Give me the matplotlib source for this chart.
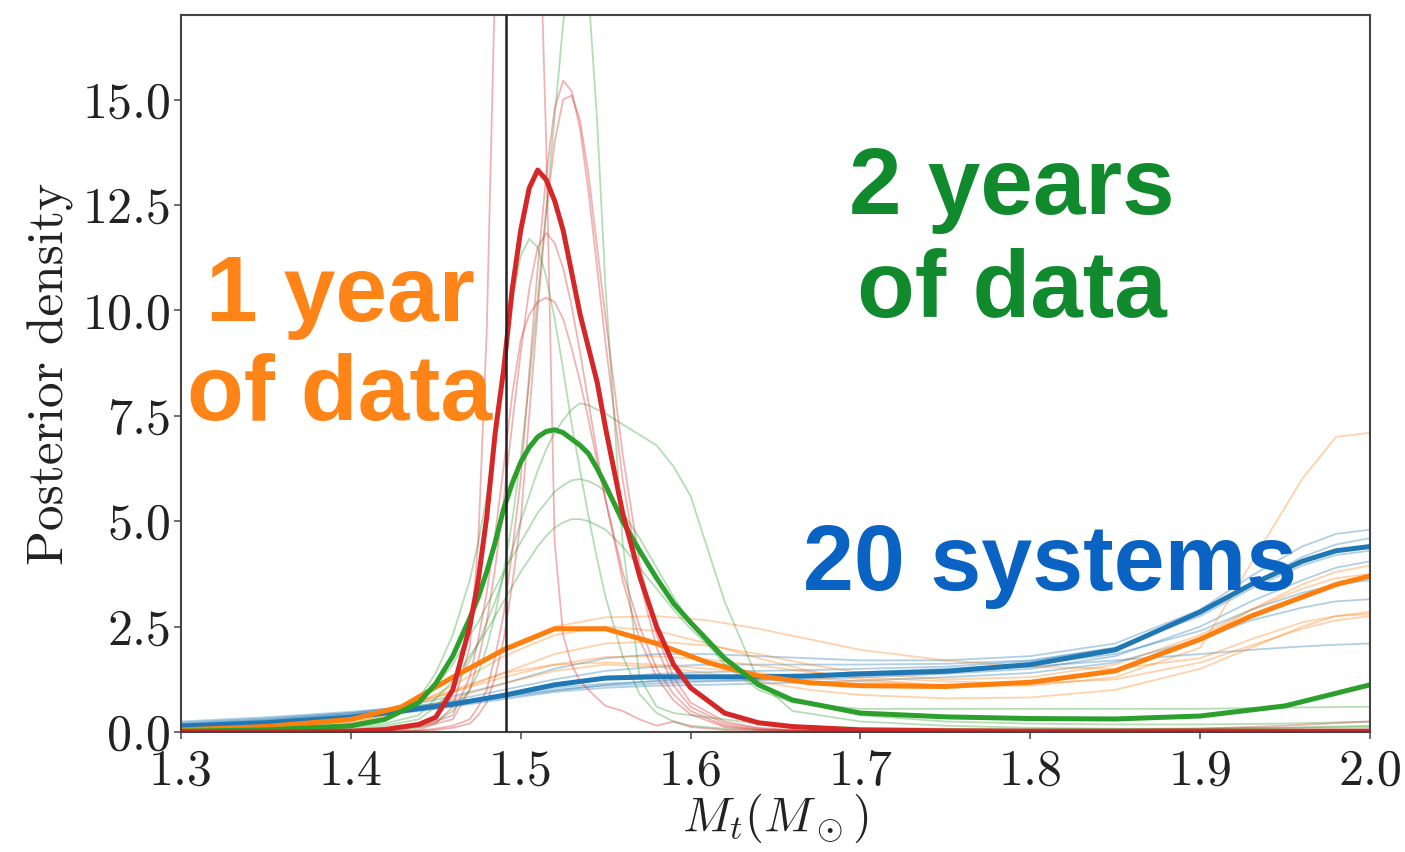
import matplotlib
matplotlib.use("Agg")
import matplotlib.pyplot as plt

plt.rcParams["font.family"] = "serif"
plt.rcParams["font.serif"] = ["cmr10"]
plt.rcParams["mathtext.fontset"] = "cm"
plt.rcParams["axes.formatter.use_mathtext"] = True
plt.rcParams["axes.unicode_minus"] = False

# x grids (total mass, solar masses)
X_NARROW = [1.30, 1.35, 1.40, 1.42, 1.44, 1.45, 1.46, 1.47, 1.475, 1.48,
            1.485, 1.49, 1.495, 1.50, 1.505, 1.51, 1.515, 1.52, 1.525, 1.53,
            1.535, 1.54, 1.545, 1.55, 1.56, 1.57, 1.58, 1.59, 1.60, 1.62,
            1.64, 1.66, 1.70, 1.75, 1.80, 1.85, 1.90, 1.95, 2.00]
X_BROAD = [1.30, 1.35, 1.40, 1.43, 1.46, 1.49, 1.52, 1.55, 1.58, 1.61, 1.64,
           1.67, 1.70, 1.75, 1.80, 1.85, 1.90, 1.93, 1.96, 1.98, 2.00]

TRUE_MASS = 1.4915

# combined posteriors
RED_MEAN = [0.0, 0.0, 0.02, 0.06, 0.18, 0.35, 1.0, 2.5, 3.6, 5.1,
            7.1, 8.6, 10.5, 11.9, 12.9, 13.33, 13.1, 12.6, 11.9, 10.9,
            9.9, 9.1, 8.3, 7.2, 5.2, 3.7, 2.5, 1.6, 1.05, 0.45,
            0.22, 0.13, 0.05, 0.03, 0.02, 0.02, 0.02, 0.02, 0.02]
GREEN_MEAN = [0.02, 0.05, 0.15, 0.3, 0.7, 1.15, 1.8, 2.7, 3.2, 3.8,
              4.5, 5.3, 5.9, 6.4, 6.75, 7.0, 7.13, 7.17, 7.1, 6.95,
              6.8, 6.6, 6.25, 5.85, 5.0, 4.3, 3.65, 3.05, 2.6, 1.75,
              1.12, 0.76, 0.45, 0.36, 0.32, 0.31, 0.38, 0.62, 1.12]
ORANGE_MEAN = [0.05, 0.13, 0.3, 0.6, 1.3, 1.95, 2.45, 2.45, 2.1, 1.65, 1.33,
               1.17, 1.1, 1.08, 1.18, 1.45, 2.2, 2.75, 3.2, 3.5, 3.7]
BLUE_MEAN = [0.14, 0.22, 0.35, 0.5, 0.66, 0.87, 1.12, 1.28, 1.31, 1.31, 1.31,
             1.33, 1.38, 1.44, 1.6, 1.95, 2.85, 3.5, 4.05, 4.3, 4.4]

# individual realisations
RED_RUNS = [
    [0.0, 0.0, 0.01, 0.02, 0.05, 0.2, 0.6, 2.0, 4.5, 9.5,
     18.0, 24.0, 27.5, 28.5, 27.0, 21.0, 14.0, 4.5, 2.3, 1.6,
     1.2, 1.0, 0.8, 0.62, 0.5, 0.3, 0.15, 0.25, 0.12, 0.05,
     0.02, 0.02, 0.02, 0.02, 0.02, 0.02, 0.02, 0.02, 0.02],
    [0.0, 0.0, 0.0, 0.01, 0.03, 0.08, 0.15, 0.3, 0.6, 1.0,
     1.8, 2.8, 4.3, 6.0, 8.5, 11.0, 13.2, 14.8, 15.45, 15.2,
     14.3, 12.8, 11.0, 9.2, 6.0, 3.6, 2.0, 1.1, 0.6, 0.2,
     0.08, 0.04, 0.02, 0.02, 0.02, 0.02, 0.02, 0.02, 0.02],
    [0.0, 0.0, 0.0, 0.01, 0.02, 0.05, 0.1, 0.2, 0.4, 0.7,
     1.3, 2.2, 3.5, 5.0, 7.5, 10.0, 12.3, 14.0, 15.0, 15.1,
     14.5, 13.2, 11.5, 9.8, 6.6, 4.0, 2.3, 1.3, 0.7, 0.25,
     0.1, 0.05, 0.03, 0.03, 0.04, 0.05, 0.08, 0.15, 0.25],
    [0.0, 0.0, 0.02, 0.05, 0.12, 0.2, 0.3, 1.0, 1.7, 2.6,
     3.9, 5.5, 7.3, 9.0, 10.5, 11.5, 11.84, 11.6, 11.0, 10.1,
     9.0, 7.8, 6.6, 5.5, 3.6, 2.2, 1.3, 0.75, 0.42, 0.12,
     0.05, 0.03, 0.02, 0.02, 0.02, 0.02, 0.02, 0.02, 0.02],
    [0.0, 0.0, 0.03, 0.07, 0.15, 0.25, 0.4, 1.3, 2.2, 3.3,
     4.7, 6.3, 8.0, 9.3, 9.9, 10.2, 10.3, 10.2, 9.8, 9.1,
     8.3, 7.4, 6.4, 5.5, 3.8, 2.5, 1.5, 0.9, 0.5, 0.15,
     0.06, 0.03, 0.02, 0.02, 0.02, 0.02, 0.02, 0.02, 0.02],
]
GREEN_RUNS = [
    [0.0, 0.01, 0.03, 0.05, 0.1, 0.25, 0.5, 1.0, 1.4, 2.0,
     2.8, 3.8, 5.0, 6.5, 8.3, 10.3, 12.4, 14.6, 16.8, 18.5,
     19.2, 17.5, 14.5, 10.5, 4.5, 1.3, 0.6, 0.45, 0.4, 0.3,
     0.2, 0.15, 0.1, 0.08, 0.07, 0.07, 0.08, 0.1, 0.12],
    [0.02, 0.04, 0.1, 0.3, 0.8, 1.4, 2.3, 3.6, 4.5, 5.6,
     7.0, 8.6, 10.2, 11.3, 11.7, 11.5, 10.8, 9.8, 8.6, 7.3,
     6.2, 5.1, 4.1, 3.2, 1.8, 0.9, 0.45, 0.25, 0.15, 0.08,
     0.05, 0.04, 0.03, 0.03, 0.03, 0.03, 0.04, 0.05, 0.06],
    [0.01, 0.03, 0.08, 0.15, 0.3, 0.6, 1.0, 1.7, 2.1, 2.6,
     3.1, 3.7, 4.3, 5.0, 5.6, 6.2, 6.7, 7.1, 7.4, 7.65,
     7.8, 7.75, 7.65, 7.55, 7.3, 7.05, 6.8, 6.3, 5.6, 3.1,
     1.2, 0.5, 0.25, 0.15, 0.1, 0.08, 0.08, 0.1, 0.15],
    [0.03, 0.07, 0.15, 0.3, 0.7, 1.1, 1.6, 2.3, 2.6, 3.0,
     3.4, 3.8, 4.15, 4.5, 4.85, 5.2, 5.45, 5.7, 5.85, 5.97,
     6.0, 5.95, 5.85, 5.7, 5.2, 4.6, 3.9, 3.2, 2.6, 1.6,
     1.0, 0.7, 0.55, 0.55, 0.55, 0.55, 0.55, 0.58, 0.6],
    [0.02, 0.05, 0.12, 0.2, 0.4, 0.8, 1.2, 1.8, 2.1, 2.4,
     2.75, 3.1, 3.45, 3.8, 4.1, 4.4, 4.65, 4.85, 4.97, 5.05,
     5.05, 5.0, 4.9, 4.8, 4.4, 3.9, 3.4, 2.9, 2.45, 1.7,
     1.1, 0.75, 0.4, 0.25, 0.2, 0.18, 0.18, 0.2, 0.25],
]
ORANGE_RUNS = [
    [0.03, 0.08, 0.25, 0.6, 1.3, 2.0, 2.5, 2.72, 2.75, 2.65, 2.45,
     2.2, 1.95, 1.7, 1.55, 1.5, 1.75, 2.2, 2.6, 2.75, 2.8],
    [0.05, 0.1, 0.3, 0.6, 1.0, 1.4, 1.6, 1.65, 1.6, 1.5, 1.4,
     1.3, 1.2, 1.1, 1.1, 1.3, 2.0, 4.0, 6.0, 7.0, 7.1],
    [0.05, 0.12, 0.3, 0.55, 0.95, 1.4, 1.85, 2.1, 2.15, 2.05, 1.85,
     1.6, 1.4, 1.25, 1.3, 1.6, 2.3, 2.9, 3.4, 3.65, 3.75],
    [0.08, 0.15, 0.35, 0.6, 0.95, 1.3, 1.6, 1.78, 1.8, 1.72, 1.58,
     1.42, 1.3, 1.2, 1.15, 1.25, 1.65, 2.05, 2.45, 2.65, 2.75],
    [0.04, 0.1, 0.25, 0.45, 0.8, 1.15, 1.45, 1.6, 1.55, 1.4, 1.2,
     1.0, 0.88, 0.8, 0.82, 1.0, 1.5, 2.0, 2.5, 2.75, 2.85],
    [0.02, 0.06, 0.2, 0.5, 1.1, 1.8, 2.3, 2.5, 2.4, 2.1, 1.75,
     1.45, 1.25, 1.1, 1.15, 1.45, 2.2, 2.9, 3.5, 3.8, 3.95],
]
BLUE_RUNS = [
    [0.2, 0.3, 0.45, 0.6, 0.85, 1.15, 1.5, 1.75, 1.85, 1.85, 1.8,
     1.75, 1.7, 1.7, 1.8, 2.1, 2.9, 3.7, 4.4, 4.7, 4.8],
    [0.15, 0.25, 0.4, 0.55, 0.75, 1.0, 1.25, 1.45, 1.55, 1.6, 1.6,
     1.6, 1.6, 1.62, 1.7, 2.0, 2.75, 3.4, 3.95, 4.2, 4.3],
    [0.25, 0.35, 0.48, 0.58, 0.72, 0.85, 1.0, 1.1, 1.15, 1.2, 1.22,
     1.25, 1.3, 1.38, 1.5, 1.8, 2.5, 3.1, 3.6, 3.9, 4.05],
    [0.12, 0.2, 0.35, 0.45, 0.6, 0.78, 0.95, 1.05, 1.1, 1.12, 1.15,
     1.18, 1.22, 1.3, 1.4, 1.65, 2.2, 2.65, 2.95, 3.1, 3.15],
    [0.18, 0.28, 0.42, 0.55, 0.7, 0.88, 1.05, 1.15, 1.2, 1.22, 1.25,
     1.3, 1.35, 1.45, 1.55, 1.7, 1.85, 1.95, 2.03, 2.07, 2.1],
    [0.22, 0.32, 0.45, 0.55, 0.68, 0.82, 0.98, 1.12, 1.22, 1.28, 1.32,
     1.36, 1.42, 1.5, 1.6, 1.85, 2.4, 2.9, 3.3, 3.5, 3.6],
    [0.17, 0.27, 0.4, 0.52, 0.68, 0.9, 1.15, 1.3, 1.38, 1.42, 1.45,
     1.47, 1.5, 1.55, 1.68, 2.0, 2.8, 3.5, 4.15, 4.45, 4.6],
]

X_TICKS = [1.3, 1.4, 1.5, 1.6, 1.7, 1.8, 1.9, 2.0]
Y_TICKS = [0.0, 2.5, 5.0, 7.5, 10.0, 12.5, 15.0]

BLUE = "#1f77b4"
ORANGE = "#ff7f0e"
GREEN = "#2ca02c"
RED = "#d62728"

fig = plt.figure(figsize=(14.05, 8.52), dpi=100)
ax = fig.add_axes([0.1288, 0.1408, 0.8463, 0.8412])

thin = dict(lw=1.3, alpha=0.35, solid_joinstyle="round")
for y in BLUE_RUNS:
    ax.plot(X_BROAD, y, color=BLUE, **thin)
for y in ORANGE_RUNS:
    ax.plot(X_BROAD, y, color=ORANGE, **thin)
for y in GREEN_RUNS:
    ax.plot(X_NARROW, y, color=GREEN, **thin)
for y in RED_RUNS:
    ax.plot(X_NARROW, y, color=RED, **thin)

thick = dict(lw=3.6, solid_capstyle="round", solid_joinstyle="round")
ax.plot(X_BROAD, BLUE_MEAN, color=BLUE, **thick)
ax.plot(X_BROAD, ORANGE_MEAN, color=ORANGE, **thick)
ax.plot(X_NARROW, GREEN_MEAN, color=GREEN, **thick)
ax.plot(X_NARROW, RED_MEAN, color=RED, **thick)

ax.axvline(TRUE_MASS, color="#222222", lw=1.8, zorder=5)

ax.set_xlim(1.3, 2.0)
ax.set_ylim(0, 17)
ax.set_xticks(X_TICKS)
ax.set_xticklabels([f"{v:.1f}" for v in X_TICKS])
ax.set_yticks(Y_TICKS)
ax.set_yticklabels([f"{v:.1f}" for v in Y_TICKS])
ax.tick_params(labelsize=36, length=5, width=1.2, color="#555555",
               labelcolor="#222222")
ax.tick_params(axis="x", pad=7)
ax.tick_params(axis="y", pad=2)
for s in ax.spines.values():
    s.set_color("#444444")
    s.set_linewidth(1.5)

ax.set_xlabel(r"$M_t(M_\odot)$", fontsize=35, labelpad=-2, color="#222222")
ax.set_ylabel("Posterior density", fontsize=37, labelpad=6, color="#222222")

label_font = dict(family=["Liberation Sans", "DejaVu Sans"], weight="bold",
                  ha="center", va="center", linespacing=1.2, zorder=10)
ax.text(1.3936, 9.15, "1 year\nof data", color="#ff8418", fontsize=67,
        **label_font)
ax.text(1.789, 11.65, "2 years\nof data", color="#118a2e", fontsize=68,
        **label_font)
ax.text(1.8115, 3.95, "20 systems", color="#0a62c2", fontsize=66,
        **label_font)

fig.savefig("out.png", dpi=100)
